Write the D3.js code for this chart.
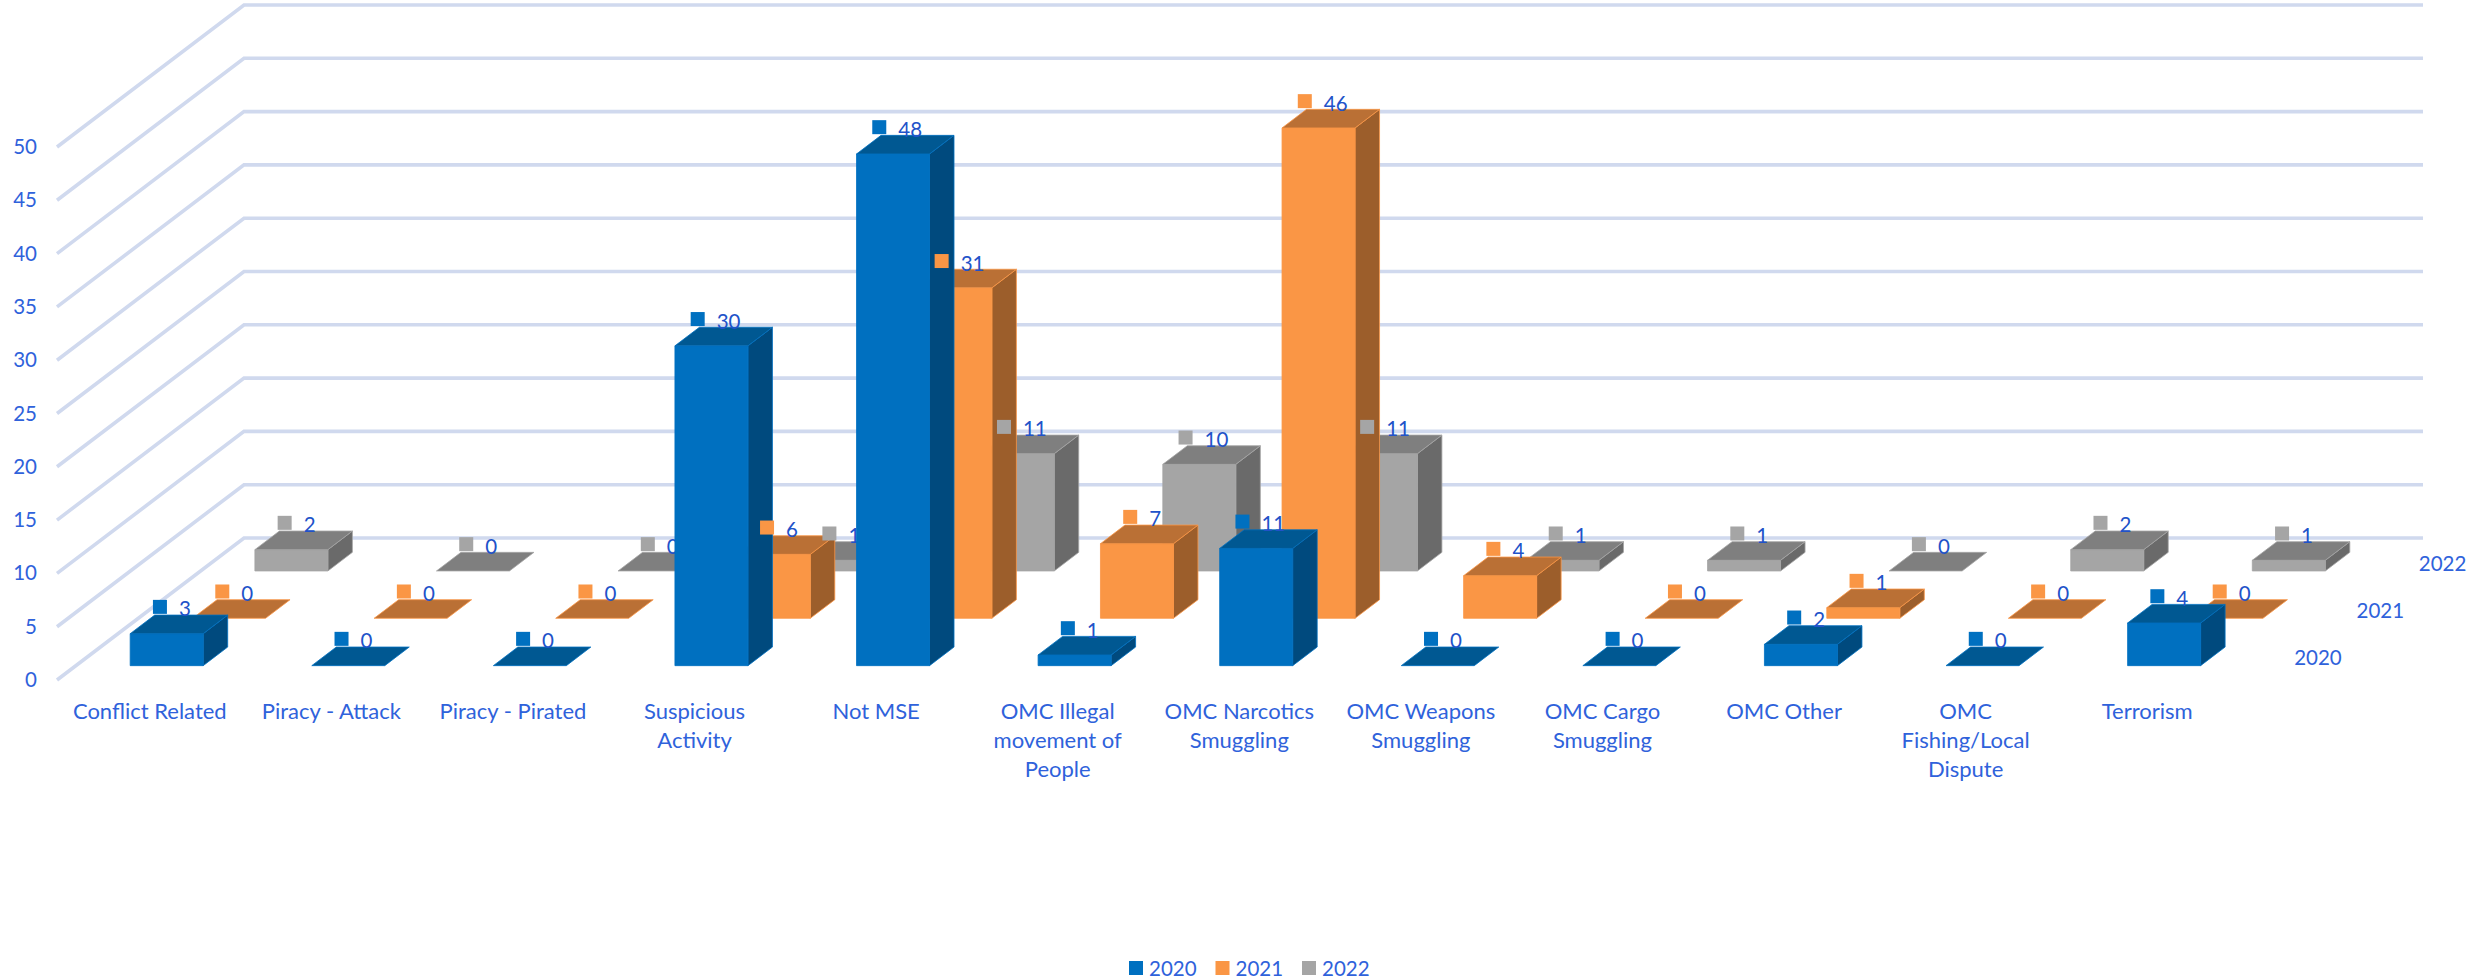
<!DOCTYPE html>
<html>
<head>
<meta charset="utf-8">
<script src="https://cdn.jsdelivr.net/npm/d3@7"></script>
<style>
    html, body { margin: 0; padding: 0; background: #fff; }
    text { font-family: Lato, "Open Sans", sans-serif; }
</style>
</head>
<body>
<div id="chart"></div>
<script>
// Chart values
const categories = [
    "Conflict Related", "Piracy - Attack", "Piracy - Pirated", "Suspicious Activity",
    "Not MSE", "OMC Illegal movement of People", "OMC Narcotics Smuggling",
    "OMC Weapons Smuggling", "OMC Cargo Smuggling", "OMC Other",
    "OMC Fishing/Local Dispute", "Terrorism"
];
const categoryLines = [
    ["Conflict Related"], ["Piracy - Attack"], ["Piracy - Pirated"], ["Suspicious", "Activity"],
    ["Not MSE"], ["OMC Illegal", "movement of", "People"], ["OMC Narcotics", "Smuggling"],
    ["OMC Weapons", "Smuggling"], ["OMC Cargo", "Smuggling"], ["OMC Other"],
    ["OMC", "Fishing/Local", "Dispute"], ["Terrorism"]
];
const seriesNames = ["2020", "2021", "2022"];
const values2020 = [3, 0, 0, 30, 48, 1, 11, 0, 0, 2, 0, 4];
const values2021 = [0, 0, 0, 6, 31, 7, 46, 4, 0, 1, 0, 0];
const values2022 = [2, 0, 0, 1, 11, 10, 11, 1, 1, 0, 2, 1];
const valueTicks = [0, 5, 10, 15, 20, 25, 30, 35, 40, 45, 50];

const seriesValues = {"2020": values2020, "2021": values2021, "2022": values2022};

// Front, top and side colours of each series
const frontColor = {"2020": "#0070c0", "2021": "#fa9645", "2022": "#a5a5a5"};
const topColor = {"2020": "#005892", "2021": "#ba7035", "2022": "#7f7f7f"};
const sideColor = {"2020": "#004a7e", "2021": "#9c5e2b", "2022": "#6a6a6a"};

const width = 2484, height = 980;
const axisColor = "#2f62db", labelColor = "#2152c9";
const fontSize = 20.5, categoryFontSize = 22;

const svg = d3.select("#chart").append("svg")
    .attr("width", width)
    .attr("height", height)
    .style("display", "block");

// Scales
const x = d3.scaleBand().domain(categories).range([57, 2236])
    .paddingInner(0.598).paddingOuter(0.299);
const depth = d3.scaleBand().domain(seriesNames).range([0, 1])
    .paddingInner(0.607).paddingOuter(0.303);
const y = d3.scaleLinear().domain([0, 50]).range([680, 147]);

// Floor depth runs up and to the right
const depthX = d3.scaleLinear().domain([0, 1]).range([0, 187]);
const depthY = d3.scaleLinear().domain([0, 1]).range([0, -142]);

function project(px, d, v) {
    return [px + depthX(d), y(v) + depthY(d)];
}

function pointString(points) {
    return points.map(p => p.join(",")).join(" ");
}

// Wall and back gridlines
const wall = svg.append("g");
wall.selectAll("polyline")
    .data(valueTicks)
    .join("polyline")
    .attr("points", v => pointString([
        project(57, 0, v),
        project(57, 1, v),
        project(2236, 1, v)
    ]))
    .attr("fill", "none")
    .attr("stroke", "#d0d9ee")
    .attr("stroke-width", 3.6);

// Value axis
const axis = svg.append("g")
    .attr("transform", "translate(44,0)")
    .call(d3.axisLeft(y).tickValues(valueTicks).tickSize(0).tickPadding(7));
axis.select(".domain").remove();
axis.selectAll("text")
    .attr("fill", axisColor)
    .style("font-size", fontSize + "px");

// Category labels
const catLabels = svg.append("g");
categories.forEach((c, i) => {
    const label = catLabels.append("text")
        .attr("text-anchor", "middle")
        .attr("fill", axisColor)
        .style("font-size", categoryFontSize + "px");
    categoryLines[i].forEach((line, j) => {
        label.append("tspan")
            .attr("x", x(c) + x.bandwidth() / 2 + 2)
            .attr("y", 719 + j * 29)
            .text(line);
    });
});

// Depth axis labels
svg.append("g").selectAll("text")
    .data(seriesNames)
    .join("text")
    .attr("x", s => project(2236, depth(s) + depth.bandwidth() / 2, 0)[0] + 27)
    .attr("y", s => project(2236, depth(s) + depth.bandwidth() / 2, 0)[1] + 9)
    .attr("fill", axisColor)
    .style("font-size", fontSize + "px")
    .text(s => s);

// One 3d column of a series
function drawBars(s) {
    const g = svg.append("g")
        .attr("stroke", frontColor[s])
        .attr("stroke-width", 0.8)
        .attr("stroke-linejoin", "round");
    const d0 = depth(s), d1 = depth(s) + depth.bandwidth();
    const w = x.bandwidth();
    categories.forEach((c, i) => {
        const v = seriesValues[s][i];
        const x0 = x(c), x1 = x(c) + w;
        if (v > 0) {
            g.append("polygon")
                .attr("points", pointString([
                    project(x1, d0, 0), project(x1, d1, 0), project(x1, d1, v), project(x1, d0, v)
                ]))
                .attr("fill", sideColor[s]);
            g.append("polygon")
                .attr("points", pointString([
                    project(x0, d0, 0), project(x1, d0, 0), project(x1, d0, v), project(x0, d0, v)
                ]))
                .attr("fill", frontColor[s]);
        }
        g.append("polygon")
            .attr("points", pointString([
                project(x0, d0, v), project(x1, d0, v), project(x1, d1, v), project(x0, d1, v)
            ]))
            .attr("fill", topColor[s]);
    });
}

// Marker and value above each column, centred as one block
function drawLabels(s) {
    const g = svg.append("g");
    const dMid = depth(s) + depth.bandwidth() / 2;
    categories.forEach((c, i) => {
        const v = seriesValues[s][i];
        const p = project(x(c) + x.bandwidth() / 2, dMid, v);
        const shift = v >= 10 ? -7 : 0;
        g.append("rect")
            .attr("x", p[0] - 26 + shift)
            .attr("y", p[1] - 24.5)
            .attr("width", 14)
            .attr("height", 14)
            .attr("fill", frontColor[s]);
        g.append("text")
            .attr("x", p[0] + shift)
            .attr("y", p[1] - 8)
            .attr("fill", labelColor)
            .style("font-size", fontSize + "px")
            .text(v);
    });
}

// Back to front, the 2022 labels sit under the 2020 columns
drawBars("2022");
drawBars("2021");
drawLabels("2022");
drawBars("2020");
drawLabels("2021");
drawLabels("2020");

// Legend
const legendX = d3.scalePoint().domain(seriesNames).range([1129, 1302]);
const legend = svg.append("g").selectAll("g")
    .data(seriesNames)
    .join("g")
    .attr("transform", s => `translate(${legendX(s)},961)`);
legend.append("rect")
    .attr("width", 14)
    .attr("height", 14)
    .attr("fill", s => frontColor[s]);
legend.append("text")
    .attr("x", 20)
    .attr("y", 14.5)
    .attr("fill", axisColor)
    .style("font-size", fontSize + "px")
    .text(s => s);
</script>
</body>
</html>
